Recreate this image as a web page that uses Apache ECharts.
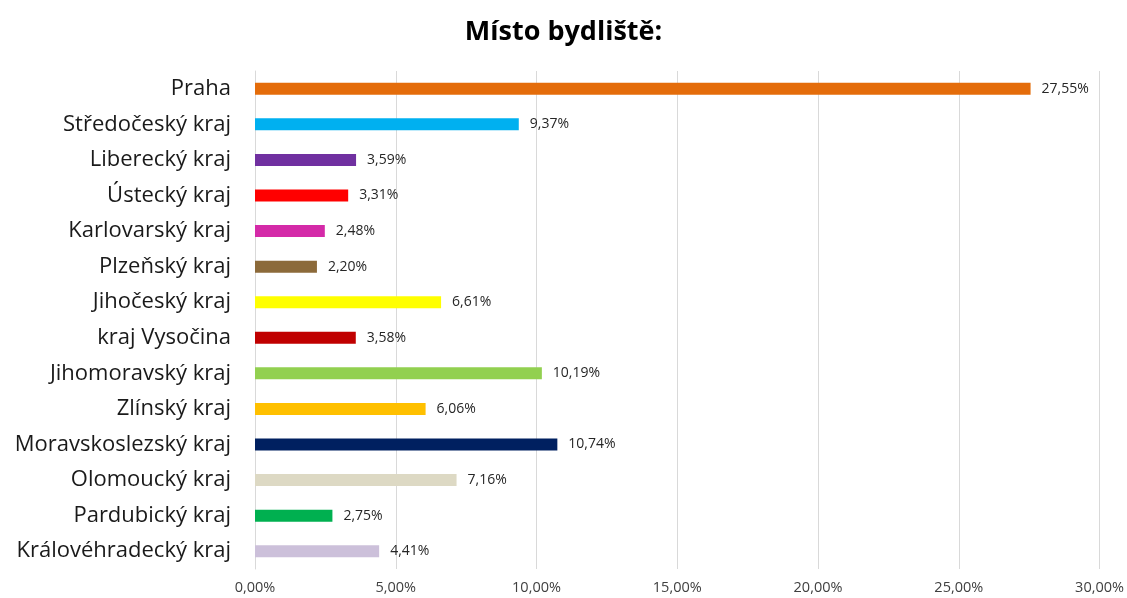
<!DOCTYPE html>
<html>
<head>
<meta charset="utf-8">
<script src="https://cdn.jsdelivr.net/npm/echarts@6/dist/echarts.min.js"></script>
<style>
  html, body { margin: 0; padding: 0; background: #fff; }
  #chart { width: 1127px; height: 598px; }
</style>
</head>
<body>
<div id="chart"></div>
<script>
// Regions listed top to bottom
const regions = [
  'Praha', 'Středočeský kraj', 'Liberecký kraj', 'Ústecký kraj',
  'Karlovarský kraj', 'Plzeňský kraj', 'Jihočeský kraj', 'kraj Vysočina',
  'Jihomoravský kraj', 'Zlínský kraj', 'Moravskoslezský kraj',
  'Olomoucký kraj', 'Pardubický kraj', 'Královéhradecký kraj'
];
// Share of respondents in percent
const shares = [27.55, 9.37, 3.59, 3.31, 2.48, 2.20, 6.61, 3.58, 10.19, 6.06, 10.74, 7.16, 2.75, 4.41];
const barColors = [
  '#E46C0A', '#00B0F0', '#7030A0', '#FF0000', '#D42AA8', '#8C6A3A', '#FFFF00',
  '#C00000', '#92D050', '#FFC000', '#002060', '#DDD9C4', '#00B050', '#CCC0DA'
];
const xTicks = [0, 5, 10, 15, 20, 25, 30];

const fmt = v => v.toFixed(2).replace('.', ',') + '%';
const font = '"Open Sans", "Noto Sans", sans-serif';

const chart = echarts.init(document.getElementById('chart'), null, { renderer: 'canvas' });
chart.setOption({
  animation: false,
  backgroundColor: '#ffffff',
  title: {
    text: 'Místo bydliště:',
    left: 'center',
    top: 14,
    textStyle: { fontFamily: font, fontSize: 27, fontWeight: 'bold', color: '#000' }
  },
  grid: { left: 255, right: 26, top: 71, bottom: 29, containLabel: false },
  xAxis: {
    type: 'value',
    min: xTicks[0],
    max: xTicks[xTicks.length - 1],
    interval: 5,
    axisLine: { show: false },
    axisTick: { show: false },
    splitLine: { show: true, lineStyle: { color: '#d9d9d9', width: 1 } },
    axisLabel: {
      fontFamily: font, fontSize: 14.5, color: '#404040', margin: 11,
      formatter: v => fmt(v)
    }
  },
  yAxis: {
    type: 'category',
    data: regions,
    inverse: true,
    axisLine: { show: true, lineStyle: { color: '#d9d9d9', width: 1 } },
    axisTick: { show: false },
    axisLabel: { fontFamily: font, fontSize: 22, color: '#1a1a1a', margin: 24 }
  },
  series: [{
    type: 'bar',
    barWidth: 12,
    data: shares.map((v, i) => ({ value: v, itemStyle: { color: barColors[i] } })),
    label: {
      show: true,
      position: 'right',
      distance: 11,
      fontFamily: font,
      fontSize: 14,
      color: '#262626',
      formatter: p => fmt(p.value)
    }
  }]
});
</script>
</body>
</html>
